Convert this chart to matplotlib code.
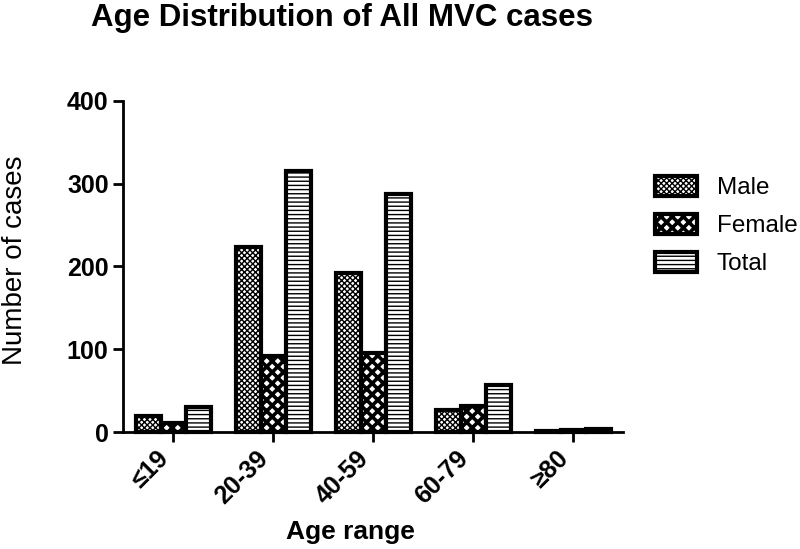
import matplotlib
matplotlib.use("Agg")
import matplotlib.pyplot as plt
import matplotlib.patches as mpatches
import numpy as np

# datos
categorias = ["\u226419", "20-39", "40-59", "60-79", "\u226580"]
male = [19, 223, 192, 26, 1]
female = [11, 92, 95, 31, 3]
total = [30, 315, 287, 57, 4]
yticks = [0, 100, 200, 300, 400]

plt.rcParams['font.family'] = ['Liberation Sans', 'DejaVu Sans']

fig = plt.figure(figsize=(8, 5.49), dpi=100)
ax = fig.add_axes([0.154, 0.2131, 0.625, 0.603])

x = np.arange(len(categorias))
w = 0.25
# (valores, etiqueta, patron, grosor del patron)
series = [(male, "Male", "xxxxxx", 1.0), (female, "Female", "xxx", 2.6),
          (total, "Total", "----", 1.0)]
handles = []
for i, (vals, lab, hat, hlw) in enumerate(series):
    with plt.rc_context({'hatch.linewidth': hlw}):
        ax.bar(x + (i - 1) * w, vals, width=w, color="white", edgecolor="black",
               linewidth=3, hatch=hat, clip_on=False)
        handles.append(mpatches.Patch(facecolor="white", edgecolor="black",
                                      linewidth=3, hatch=hat, label=lab))

ax.set_xlim(-0.5, 4.5)
ax.set_ylim(0, 400)
ax.set_yticks(yticks)
ax.set_yticklabels([str(v) for v in yticks], fontsize=18, fontweight="bold")
ax.set_xticks(x)
ax.set_xticklabels(categorias, rotation=45, ha="right", fontsize=18, fontweight="bold")

for s in ["top", "right"]:
    ax.spines[s].set_visible(False)
for s in ["left", "bottom"]:
    ax.spines[s].set_linewidth(2)
ax.tick_params(axis="both", width=2, length=7, direction="out")

ax.set_ylabel("Number of cases", fontsize=20)
ax.yaxis.set_label_coords(-0.19, 0.52)

fig.text(350 / 800, 1 - 532 / 549, "Age range", fontsize=19, fontweight="bold",
         ha="center", va="center")
fig.text(342 / 800, 1 - 18 / 549, "Age Distribution of All MVC cases", fontsize=22.5,
         fontweight="bold", ha="center", va="center")

leg = fig.legend(handles=handles, loc="upper left", bbox_to_anchor=(645 / 800, 1 - 166 / 549),
                 frameon=False, fontsize=17.5, handlelength=1.75, handleheight=0.9,
                 labelspacing=0.6, handletextpad=0.8, borderaxespad=0)
# el patron de Female en la leyenda con el mismo grosor que en las barras
for h, s in zip(leg.legend_handles, series):
    if hasattr(h, "set_hatch_linewidth"):
        h.set_hatch_linewidth(s[3])

plt.savefig("out.png", dpi=100)
